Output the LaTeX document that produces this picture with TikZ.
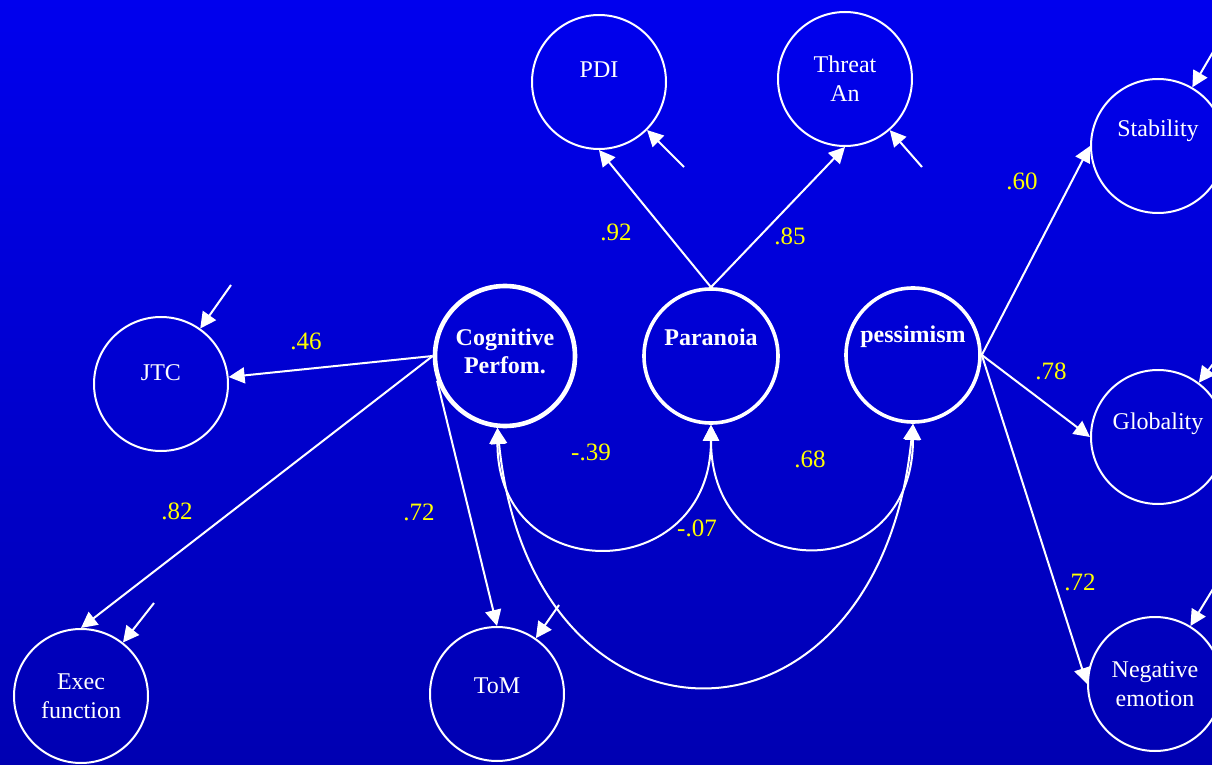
\documentclass[tikz,border=0pt]{standalone}
\usepackage{fontspec}
\setmainfont{Liberation Serif}
\usetikzlibrary{arrows.meta}
\definecolor{bgtop}{RGB}{0,0,238}
\definecolor{bgbot}{RGB}{0,0,178}
\definecolor{coefyellow}{RGB}{255,255,0}
\tikzset{
  latent/.style={circle,draw=white,line width=1pt,minimum size=67pt,inner sep=0pt},
  factor/.style={latent,line width=1.8pt},
  txt/.style={text=white,align=center,font=\fontsize{12}{14.5}\selectfont},
  boldtxt/.style={text=white,align=center,font=\fontsize{12}{14}\selectfont\bfseries},
  load/.style={draw=white,line width=1pt,-{Triangle[length=8pt,width=8pt]}},
  corr/.style={draw=white,line width=1pt,{Triangle[length=8pt,width=8pt]}-{Triangle[length=8pt,width=8pt]}},
  coef/.style={text=coefyellow,font=\fontsize{12.5}{14.5}\selectfont},
}
\begin{document}
\begin{tikzpicture}[x=0.5pt,y=-0.5pt]
    % background
    \shade[top color=bgtop,bottom color=bgbot] (0,0) rectangle (1212,765);
    \useasboundingbox (0,0) rectangle (1212,765);
    % factors
    \node[factor,line width=2.3pt,minimum size=70pt,label={[boldtxt,yshift=2.5pt]center:Cognitive\\Perfom.}] (cog) at (505,356) {};
    \node[factor,label={[boldtxt,yshift=9.5pt]center:Paranoia}] (para) at (711,356) {};
    \node[factor,label={[boldtxt,yshift=9pt]center:pessimism}] (pess) at (913,355) {};
    % indicators
    \node[latent,label={[txt,yshift=6pt]center:PDI}] (pdi) at (599,82) {};
    \node[latent,label={[txt]center:Threat\\An}] (thr) at (845,79) {};
    \node[latent,label={[txt,yshift=7.5pt]center:Stability}] (stab) at (1158,146) {};
    \node[latent,label={[txt,yshift=6.5pt]center:Globality}] (glob) at (1158,437) {};
    \node[latent,label={[txt]center:Negative\\emotion}] (neg) at (1155,684) {};
    \node[latent,label={[txt,yshift=5.5pt]center:JTC}] (jtc) at (161,384) {};
    \node[latent,label={[txt]center:Exec\\function}] (exec) at (81,696) {};
    \node[latent,label={[txt,yshift=4pt]center:ToM}] (tom) at (497,694) {};
    % loadings
    \draw[load] (cog.west) -- (jtc);
    \draw[load] (cog.west) -- (exec.north);
    \draw[load] (cog.200) -- (tom.north);
    \draw[load] (para.north) -- (pdi.south);
    \draw[load] (para.north) -- (thr.south);
    \draw[load] (pess.east) -- (stab.west);
    \draw[load] (pess.east) -- (glob.west);
    \draw[load] (pess.east) -- (neg.west);
    % correlations
    \draw[corr] (cog.264) .. controls +(0,161) and +(0,161) .. (para.south);
    \draw[corr] (para.south) .. controls +(0,163) and +(0,163) .. (pess.south);
    \draw[corr] (cog.264) .. controls +(35,345) and +(-35,345) .. coordinate[pos=0.22] (e-tom) (pess.south);
    % error terms
    \coordinate (e-pdi) at (684,167);
    \coordinate (e-thr) at (922,167);
    \coordinate (e-stab) at (1213,52);
    \coordinate (e-glob) at (1213,364);
    \coordinate (e-neg) at (1213,589);
    \coordinate (e-jtc) at (231,285);
    \coordinate (e-exec) at (154,603);
    \foreach \v in {pdi,thr,stab,glob,neg,jtc,exec,tom}
        \draw[load] (e-\v) -- (\v);
    % coefficients
    \node[coef] (c-jtc) at (306,341) {.46};
    \node[coef] (c-exec) at (177,511) {.82};
    \node[coef] (c-tom) at (419,512) {.72};
    \node[coef] (c-pdi) at (616,232) {.92};
    \node[coef] (c-thr) at (790,236) {.85};
    \node[coef] (c-stab) at (1022,181) {.60};
    \node[coef] (c-glob) at (1051,371) {.78};
    \node[coef] (c-neg) at (1080,582) {.72};
    \node[coef] (r-cp) at (591,452) {-.39};
    \node[coef] (r-pp) at (810,459) {.68};
    \node[coef] (r-cpe) at (697,528) {-.07};
\end{tikzpicture}
\end{document}
